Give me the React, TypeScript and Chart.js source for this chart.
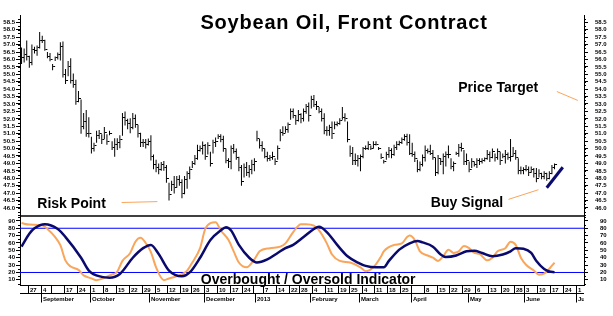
import React, { useEffect, useRef } from 'react';
import { Chart, registerables } from 'chart.js';

Chart.register(...registerables);

// ---- data: daily bars, index 0 = 22 Aug 2012 (trading-day index) ----
const highs = [
  56.8, 56.74, 57.27, 56.25, 57.0, 56.86, 56.94, 57.85, 57.6, 57.33,
  56.5, 56.43, 55.7, 56.2, 56.47, 57.16, 57.2, 55.35, 55.89, 56.08,
  55.05, 54.63, 53.88, 53.3, 52.4, 52.6, 52.1, 50.8, 50.4, 51.2,
  51.25, 50.97, 51.46, 50.97, 51.2, 50.5, 50.7, 50.7, 50.9, 52.4,
  52.5, 52.0, 52.04, 52.4, 52.3, 51.6, 51.07, 50.64, 50.64, 50.68,
  50.9, 49.6, 49.24, 49.0, 49.1, 49.17, 48.9, 47.7, 47.83, 48.15,
  48.15, 48.2, 47.94, 48.16, 48.48, 48.8, 49.17, 49.56, 50.25, 50.2,
  50.47, 50.3, 50.43, 49.78, 50.6, 50.75, 50.97, 50.97, 50.86, 50.0,
  49.35, 50.2, 50.3, 50.0, 49.45, 48.9, 49.0, 49.1, 48.9, 49.24,
  49.35, 51.2, 50.64, 50.5, 50.0, 49.78, 49.56, 49.78, 49.35, 50.2,
  51.3, 51.5, 51.5, 51.76, 52.7, 52.7, 52.26, 52.6, 52.37, 52.7,
  53.0, 53.1, 53.56, 53.6, 53.2, 52.8, 52.7, 52.37, 51.5, 51.6,
  51.83, 51.83, 51.83, 52.04, 52.8, 52.37, 51.83, 50.2, 50.1, 49.67,
  49.56, 49.6, 50.1, 50.2, 50.5, 50.2, 50.5, 50.5, 50.1, 49.67,
  49.24, 49.78, 50.1, 50.03, 50.25, 50.5, 50.53, 50.75, 50.97, 51.0,
  50.97, 50.4, 49.8, 49.24, 49.13, 49.6, 50.2, 50.0, 50.25, 49.9,
  49.39, 49.56, 49.35, 49.67, 49.8, 50.2, 49.35, 49.13, 49.78, 50.3,
  50.4, 49.9, 49.67, 49.13, 49.35, 49.13, 49.35, 49.35, 49.35, 49.4,
  49.9, 49.8, 50.0, 49.67, 50.0, 49.78, 49.67, 49.9, 49.74, 50.64,
  50.1, 49.9, 49.35, 48.8, 48.75, 48.9, 48.8, 48.8, 48.7, 48.7,
  48.6, 48.37, 48.48, 48.37, 48.48, 48.9, 49.0,
];
const lows = [
  55.7, 55.8, 55.93, 55.44, 55.6, 56.4, 56.25, 56.73, 57.1, 56.58,
  56.08, 55.87, 55.28, 55.9, 56.0, 55.93, 54.79, 54.35, 54.87, 54.38,
  54.1, 52.95, 53.12, 51.0, 51.3, 50.8, 50.75, 49.67, 49.8, 50.4,
  50.65, 50.3, 50.64, 50.25, 50.9, 49.9, 49.45, 49.9, 50.03, 50.86,
  51.55, 51.3, 51.03, 51.3, 51.4, 50.75, 50.1, 50.1, 50.0, 50.2,
  49.2, 48.6, 48.4, 48.27, 48.5, 48.5, 47.7, 46.5, 47.15, 46.97,
  47.36, 47.5, 46.65, 46.93, 47.3, 47.94, 48.7, 48.9, 49.24, 49.8,
  49.6, 49.24, 49.6, 48.8, 49.67, 50.1, 50.64, 50.43, 49.78, 49.02,
  48.7, 48.6, 49.67, 49.24, 48.48, 47.5, 48.05, 48.16, 48.05, 48.27,
  48.48, 50.5, 50.0, 49.8, 49.35, 49.13, 49.17, 49.24, 48.9, 49.24,
  50.5, 50.86, 51.07, 51.07, 51.94, 52.04, 51.6, 51.83, 51.7, 51.83,
  52.35, 51.83, 52.7, 52.8, 52.6, 52.37, 51.83, 50.97, 50.86, 50.86,
  50.64, 51.3, 51.5, 51.6, 51.94, 51.83, 50.43, 49.45, 48.9, 48.9,
  48.8, 48.48, 49.35, 49.9, 49.9, 49.9, 50.0, 50.2, 49.9, 49.3,
  49.0, 49.24, 49.39, 49.35, 49.52, 49.9, 50.2, 50.3, 50.53, 50.2,
  49.56, 49.45, 49.1, 48.4, 48.48, 48.8, 49.13, 49.67, 49.56, 49.24,
  48.16, 48.27, 48.9, 48.27, 48.8, 49.35, 48.6, 48.48, 49.56, 49.45,
  49.8, 48.9, 48.9, 48.4, 48.7, 48.8, 48.7, 48.9, 49.0, 49.13,
  49.24, 49.1, 49.35, 49.13, 49.24, 48.9, 49.35, 49.0, 49.24, 49.13,
  49.45, 49.24, 48.27, 48.27, 48.27, 48.48, 48.16, 48.37, 48.05, 47.73,
  48.05, 47.94, 47.94, 47.83, 47.94, 48.27, 48.6,
];
const closes = [
  56.1, 56.3, 56.2, 55.8, 56.7, 56.6, 56.8, 57.3, 57.3, 56.7,
  56.2, 56.0, 55.5, 56.1, 56.3, 56.9, 55.0, 54.6, 55.5, 54.6,
  54.3, 53.2, 53.4, 51.5, 51.8, 51.0, 51.0, 50.0, 50.2, 50.9,
  51.0, 50.6, 51.1, 50.5, 51.0, 50.1, 50.3, 50.4, 50.6, 52.1,
  51.9, 51.7, 51.4, 52.0, 51.6, 51.0, 50.4, 50.4, 50.3, 50.5,
  49.5, 48.9, 48.7, 48.6, 48.9, 48.7, 48.0, 46.9, 47.6, 47.4,
  47.9, 47.7, 47.0, 47.9, 48.3, 48.6, 49.0, 49.3, 49.9, 50.0,
  50.2, 49.5, 50.2, 49.0, 50.4, 50.5, 50.8, 50.6, 50.0, 49.2,
  49.1, 50.0, 49.8, 49.4, 48.7, 47.8, 48.7, 48.4, 48.6, 48.9,
  49.1, 50.7, 50.2, 50.0, 49.5, 49.3, 49.4, 49.5, 49.1, 50.0,
  51.1, 51.0, 51.3, 51.6, 52.5, 52.2, 51.9, 52.3, 52.0, 52.5,
  52.8, 52.2, 53.3, 53.0, 52.8, 52.5, 52.0, 51.2, 51.2, 51.4,
  51.0, 51.6, 51.7, 51.9, 52.1, 52.0, 50.6, 49.7, 49.2, 49.2,
  49.3, 49.5, 50.0, 50.0, 50.3, 50.0, 50.3, 50.3, 50.0, 49.4,
  49.1, 49.6, 49.9, 49.6, 50.1, 50.3, 50.4, 50.6, 50.8, 50.4,
  49.7, 49.6, 49.3, 48.6, 48.9, 49.4, 49.9, 49.8, 49.7, 49.4,
  48.4, 49.3, 49.1, 49.5, 49.6, 49.6, 48.8, 49.0, 49.7, 50.1,
  50.0, 49.1, 49.2, 48.6, 49.1, 48.9, 49.2, 49.1, 49.2, 49.3,
  49.6, 49.4, 49.8, 49.4, 49.8, 49.2, 49.5, 49.6, 49.4, 49.5,
  49.7, 49.4, 48.5, 48.5, 48.6, 48.6, 48.4, 48.6, 48.3, 48.0,
  48.3, 48.1, 48.3, 48.0, 48.3, 48.7, 48.9,
];

// oscillator (fast = orange, slow = navy), sampled at trading-day index
const fastDays = [0, 3, 8, 10, 13, 15, 17, 19, 22, 24, 27, 29, 32, 34, 37, 39, 42, 44, 46, 48, 50, 52, 55, 57, 61, 64, 66, 69, 71, 73, 75, 77, 80, 82, 84, 87, 90, 92, 96, 100, 102, 105, 108, 110, 113, 115, 118, 120, 123, 127, 131, 133, 136, 139, 140, 144, 147, 149, 150, 152, 154, 157, 159, 161, 163, 165, 167, 169, 171, 173, 175, 177, 180, 182, 184, 187, 189, 191, 193, 195, 198, 200, 202, 204, 206];
const fastVals = [87, 85, 84, 79, 68, 57, 36, 28, 23.5, 16, 12, 9.6, 12.6, 16, 21.3, 35.7, 46.5, 61.7, 67, 60, 47.5, 27, 9.6, 11.8, 16, 22.6, 33.5, 53, 79, 87, 88, 77, 64, 48.7, 33.5, 27, 37.8, 48.7, 53, 55, 59.5, 74.8, 85.6, 85.6, 83.5, 77, 59.5, 44.4, 35.7, 33.5, 27, 21.7, 27, 42, 48.7, 57.4, 59.5, 68, 70.2, 64, 48.7, 43, 40, 35.7, 42, 51, 46.5, 48.7, 56, 53, 46.5, 45.2, 36.5, 40, 48.7, 53, 61.7, 57.4, 40, 30.5, 22.6, 17, 18.3, 25, 33.5];
const slowDays = [0, 3, 5, 9, 14, 17, 23, 26, 31, 34, 38, 43, 47, 50, 53, 57, 62, 65, 69, 73, 77, 79, 81, 84, 88, 91, 95, 99, 102, 105, 109, 113, 115, 118, 122, 126, 130, 133, 137, 140, 142, 146, 150, 153, 155, 159, 162, 164, 168, 172, 175, 178, 182, 186, 189, 191, 194, 197, 199, 202, 204, 206];
const slowVals = [55, 72.6, 80, 85.6, 79, 68, 40, 22.6, 14, 13, 18, 40, 53, 57.4, 45, 22.6, 14.8, 20, 40, 64, 77, 81.3, 77, 57.4, 40, 33.5, 37.8, 46.5, 53, 57.4, 68, 79, 82, 74.8, 57.4, 42, 33.5, 29, 27, 27, 35.7, 51, 59.5, 62.7, 60.8, 55, 44.4, 41, 43, 48.7, 49.6, 46.5, 42, 44.4, 48.7, 53, 52.2, 46.5, 35.7, 24.8, 21.3, 20.4];

const priceTicks = [46, 46.5, 47, 47.5, 48, 48.5, 49, 49.5, 50, 50.5, 51, 51.5, 52, 52.5, 53, 53.5, 54, 54.5, 55, 55.5, 56, 56.5, 57, 57.5, 58, 58.5];
const oscTicks = [10, 20, 30, 40, 50, 60, 70, 80, 90];
const oscLevels = [80, 20];

const weekDays = [3, 8, 12, 17, 22, 27, 32, 37, 42, 47, 52, 57, 62, 66, 71, 76, 81, 86, 90, 94, 99, 104, 108, 113, 118, 123, 127, 132, 137, 142, 147, 151, 156, 161, 166, 171, 176, 181, 186, 191, 195, 200, 205, 210, 215];
const weekLabels = ['27', '4', '', '17', '24', '1', '8', '15', '22', '29', '5', '12', '19', '26', '3', '10', '17', '24', '', '7', '14', '22', '28', '4', '11', '19', '25', '4', '11', '18', '25', '', '8', '15', '22', '29', '6', '13', '20', '28', '3', '10', '17', '24', '1'];
const monthDays = [8, 27, 50, 71, 91, 112, 131, 151, 173, 195, 215];
const monthLabels = ['September', 'October', 'November', 'December', '2013', 'February', 'March', 'April', 'May', 'June', 'July'];

// annotation segments [day, price]
const riskLine = [[38.7, 46.37], [52.5, 46.43]];
const targetLine = [[206.9, 53.84], [215, 53.24]];
const buyLine = [[188.2, 46.58], [199.8, 47.23]];
const buyTrend = [[203.0, 47.36], [209.2, 48.74]];

const titleText = 'Soybean Oil, Front Contract';
const oscTitle = 'Overbought / Oversold Indicator';
const notes = [
  { text: 'Risk Point', day: 6.1, price: 46.0 },
  { text: 'Price Target', day: 168.8, price: 53.84 },
  { text: 'Buy Signal', day: 158.2, price: 46.1 },
];

const X_MIN = -0.6;
const X_MAX = 217.4;
const ORANGE = '#F9A55A';
const NAVY = '#0A0A6E';
const FONT = 'Liberation Sans';

export default function App() {
  const ref = useRef<HTMLCanvasElement>(null);

  useEffect(() => {
    const canvas = ref.current;
    if (!canvas) return;

    const tick = document.createElement('canvas');
    tick.width = 7;
    tick.height = 1;
    const tctx = tick.getContext('2d');
    if (tctx) {
      tctx.fillStyle = '#000';
      tctx.fillRect(4, 0, 2, 1);
    }

    const seg = (pts: number[][], color: string, width: number, axis: string) => ({
      type: 'line' as const,
      data: pts.map((p) => ({ x: p[0], y: p[1] })),
      borderColor: color,
      borderWidth: width,
      pointRadius: 0,
      yAxisID: axis,
      tension: 0,
    });

    const decor = {
      id: 'decor',
      afterDraw(chart: any) {
        const { ctx, chartArea: a } = chart;
        const xs = chart.scales.x;
        const yP = chart.scales.yP;
        const yO = chart.scales.yO;
        const yPR = chart.scales.yPR;
        const yOR = chart.scales.yOR;
        ctx.save();
        ctx.strokeStyle = '#000';
        ctx.fillStyle = '#000';

        // panel separator
        ctx.lineWidth = 1.5;
        const sy = Math.round(yP.bottom);
        ctx.beginPath();
        ctx.moveTo(a.left, sy);
        ctx.lineTo(a.right, sy);
        ctx.stroke();

        // minor ticks
        ctx.lineWidth = 1;
        ctx.beginPath();
        for (let v = 45.5; v <= 58.95; v += 0.25) {
          const y = Math.round(yP.getPixelForValue(v)) + 0.5;
          ctx.moveTo(a.left - 2, y);
          ctx.lineTo(a.left, y);
          const y2 = Math.round(yPR.getPixelForValue(v)) + 0.5;
          ctx.moveTo(a.right, y2);
          ctx.lineTo(a.right + 2, y2);
        }
        for (let v = 5; v <= 95; v += 10) {
          const y = Math.round(yO.getPixelForValue(v)) + 0.5;
          ctx.moveTo(a.left - 2, y);
          ctx.lineTo(a.left, y);
          const y2 = Math.round(yOR.getPixelForValue(v)) + 0.5;
          ctx.moveTo(a.right, y2);
          ctx.lineTo(a.right + 2, y2);
        }
        ctx.stroke();

        // date axis rows
        const dTop = Math.round(a.bottom) + 0.5;
        const dBot = dTop + 8;
        const mBot = dBot + 9;
        ctx.beginPath();
        ctx.moveTo(a.left, dTop);
        ctx.lineTo(a.right, dTop);
        ctx.moveTo(a.left, dBot);
        ctx.lineTo(a.right, dBot);
        ctx.stroke();
        ctx.save();
        ctx.beginPath();
        ctx.rect(a.left, dTop - 1, a.right - a.left, mBot - dTop + 6);
        ctx.clip();
        ctx.font = `bold 6px "${FONT}"`;
        ctx.textAlign = 'left';
        ctx.textBaseline = 'alphabetic';
        ctx.beginPath();
        weekDays.forEach((d) => {
          const x = Math.round(xs.getPixelForValue(d - 0.6)) + 0.5;
          ctx.moveTo(x, dTop);
          ctx.lineTo(x, dBot);
        });
        monthDays.forEach((d) => {
          const x = Math.round(xs.getPixelForValue(d - 0.6)) + 0.5;
          ctx.moveTo(x, dBot);
          ctx.lineTo(x, mBot);
        });
        ctx.stroke();
        weekDays.forEach((d, i) => {
          const x = Math.round(xs.getPixelForValue(d - 0.6)) + 2;
          ctx.fillText(weekLabels[i], x, dBot - 1.5);
        });
        monthDays.forEach((d, i) => {
          const x = Math.round(xs.getPixelForValue(d - 0.6)) + 2;
          ctx.fillText(monthLabels[i], x, mBot - 1.5);
        });
        ctx.restore();

        // title
        ctx.font = `bold 20px "${FONT}"`;
        ctx.textAlign = 'center';
        try {
          (ctx as any).letterSpacing = '0.8px';
        } catch (e) {
          /* ignore */
        }
        ctx.fillText(titleText, 344, 29);
        try {
          (ctx as any).letterSpacing = '0px';
        } catch (e) {
          /* ignore */
        }

        // annotations
        ctx.font = `bold 14px "${FONT}"`;
        ctx.textAlign = 'left';
        notes.forEach((n) => {
          ctx.fillText(n.text, xs.getPixelForValue(n.day), yP.getPixelForValue(n.price));
        });
        ctx.fillText(oscTitle, xs.getPixelForValue(69.3), yO.getPixelForValue(4.4));
        ctx.restore();
      },
    };

    const yCommon = (pos: string, stack: string, weight: number, min: number, max: number, tks: number[], width: number, pad: number, digits: number) => ({
      type: 'linear' as const,
      position: pos,
      stack,
      stackWeight: weight,
      min,
      max,
      afterBuildTicks: (s: any) => {
        s.ticks = tks.map((v) => ({ value: v }));
      },
      afterFit: (s: any) => {
        s.width = width;
      },
      ticks: {
        autoSkip: false,
        padding: pad,
        color: '#000',
        font: { family: FONT, size: 6, weight: 'bold' as const },
        callback: (v: any) => Number(v).toFixed(digits),
      },
      grid: { drawOnChartArea: false, drawTicks: true, tickLength: 4, color: '#000', lineWidth: 1 },
      border: { display: true, color: '#000', width: 1 },
    });

    const chart = new Chart(canvas, {
      type: 'bar',
      data: {
        datasets: [
          {
            type: 'line',
            data: closes.map((c, i) => ({ x: i, y: c })),
            showLine: false,
            pointStyle: tick as any,
            pointRadius: 3,
            yAxisID: 'yP',
          } as any,
          {
            type: 'bar',
            data: highs.map((h, i) => ({ x: i, y: [lows[i], h] })),
            backgroundColor: '#000',
            barThickness: 1,
            inflateAmount: 0,
            borderWidth: 0,
            yAxisID: 'yP',
          } as any,
          seg(buyTrend, NAVY, 3, 'yP'),
          seg(riskLine, ORANGE, 1, 'yP'),
          seg(targetLine, ORANGE, 1, 'yP'),
          seg(buyLine, ORANGE, 1, 'yP'),
          {
            type: 'line',
            data: slowDays.map((d, i) => ({ x: d, y: slowVals[i] })),
            borderColor: NAVY,
            borderWidth: 2.5,
            pointRadius: 0,
            cubicInterpolationMode: 'monotone',
            yAxisID: 'yO',
          } as any,
          {
            type: 'line',
            data: fastDays.map((d, i) => ({ x: d, y: fastVals[i] })),
            borderColor: ORANGE,
            borderWidth: 2,
            pointRadius: 0,
            cubicInterpolationMode: 'monotone',
            yAxisID: 'yO',
          } as any,
          ...oscLevels.map((lv) => seg([[X_MIN, lv], [X_MAX, lv]], '#0000FF', 1, 'yO')),
        ],
      },
      options: {
        responsive: false,
        animation: false,
        devicePixelRatio: 1,
        layout: { padding: { top: 5, bottom: 31, left: 0, right: 0 } },
        plugins: { legend: { display: false }, tooltip: { enabled: false } },
        scales: {
          x: { type: 'linear', min: X_MIN, max: X_MAX, display: false, offset: false },
          yO: yCommon('left', 'L', 72, 3, 97, oscTicks, 20, 1, 0),
          yP: yCommon('left', 'L', 208, 45.48, 58.95, priceTicks, 20, 1, 1),
          yPR: yCommon('right', 'R', 208, 45.48, 58.95, priceTicks, 29, 7, 1),
          yOR: yCommon('right', 'R', 72, 3, 97, oscTicks, 29, 12, 0),
        } as any,
      },
      plugins: [decor],
    } as any);

    return () => chart.destroy();
  }, []);

  return (
    <div style={{ position: 'fixed', left: 0, top: 0, width: 613, height: 316, background: '#fff' }}>
      <canvas ref={ref} width={613} height={316} style={{ display: 'block', width: 613, height: 316 }} />
    </div>
  );
}
